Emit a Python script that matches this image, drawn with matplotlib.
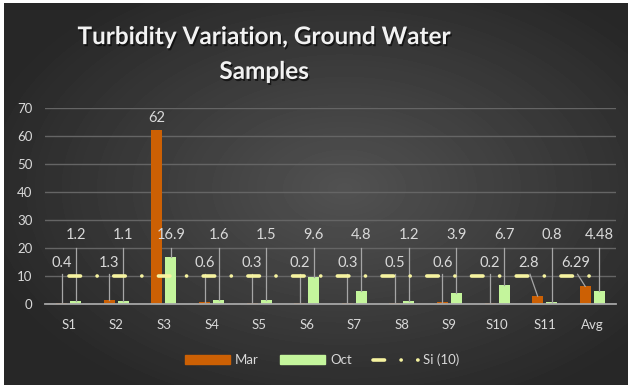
import matplotlib
matplotlib.use('Agg')
import matplotlib.pyplot as plt
import numpy as np
from matplotlib.lines import Line2D
from matplotlib.patches import Patch
import matplotlib.patheffects as pe

categories = ['S1', 'S2', 'S3', 'S4', 'S5', 'S6', 'S7', 'S8', 'S9', 'S10', 'S11', 'Avg']
mar = [0.4, 1.3, 62, 0.6, 0.3, 0.2, 0.3, 0.5, 0.6, 0.2, 2.8, 6.29]
oct_ = [1.2, 1.1, 16.9, 1.6, 1.5, 9.6, 4.8, 1.2, 3.9, 6.7, 0.8, 4.48]
si = [10, 10, 10, 10, 10, 10, 10, 10, 10, 10, 10, 10]
mar_labels = ['0.4', '1.3', '62', '0.6', '0.3', '0.2', '0.3', '0.5', '0.6', '0.2', '2.8', '6.29']
oct_labels = ['1.2', '1.1', '16.9', '1.6', '1.5', '9.6', '4.8', '1.2', '3.9', '6.7', '0.8', '4.48']
title = 'Turbidity Variation, Ground Water\nSamples'

ORANGE = '#cc6004'
GREEN = '#c4f59c'
YELLOW = '#f6f3a0'
TXT = '#d9d9d9'
LEAD = '#a6a6a6'

plt.rcParams['font.family'] = ['Lato', 'DejaVu Sans']
plt.rcParams['lines.scale_dashes'] = False

W_PX, H_PX = 628, 385
fig = plt.figure(figsize=(W_PX / 100, H_PX / 100), dpi=100, facecolor='white')

# background gradient
bg = fig.add_axes([4 / W_PX, 0, 1 - 4 / W_PX, 1 - 3 / H_PX])
H, W = 382, 624
yy, xx = np.mgrid[0:H, 0:W]
cx, cy = 340, 185
r = np.sqrt(((xx - cx) / (W * 0.6)) ** 2 + ((yy - cy) / (H * 0.62)) ** 2)
r = np.clip(r, 0, 1)
center, edge = 0.32, 0.155
img = center - (center - edge) * r
bg.imshow(img, cmap='gray', vmin=0, vmax=1, aspect='auto', extent=[0, 1, 0, 1], interpolation='bilinear')
bg.axis('off')

ax = fig.add_axes([45 / W_PX, 1 - 304 / H_PX, 571 / W_PX, 196 / H_PX])
ax.patch.set_alpha(0)
x = np.arange(len(categories))
bw = 0.23
off = 0.147
ax.bar(x - off, mar, bw, color=ORANGE, zorder=2)
ax.bar(x + off, oct_, bw, color=GREEN, zorder=2)
ax.plot(x, si, color=YELLOW, lw=2.6, dashes=(8.3, 11.9, 0.1, 11.9),
        dash_capstyle='round', solid_capstyle='round', zorder=4)

ax.set_xlim(-0.5, len(categories) - 0.5)
ax.set_ylim(0, 70)
ax.set_yticks(np.arange(0, 71, 10))
ax.set_xticks(x)
ax.set_xticklabels(categories)
ax.tick_params(axis='both', length=0, colors=TXT, labelsize=9.5)
ax.tick_params(axis='x', pad=11)
ax.tick_params(axis='y', pad=9)
ax.grid(axis='y', color='#656565', lw=1.0, zorder=0)
ax.set_axisbelow(True)
for s in ['top', 'right', 'left']:
    ax.spines[s].set_visible(False)
ax.spines['bottom'].set_color('#a6a6a6')
ax.spines['bottom'].set_linewidth(1.3)
ax.spines['bottom'].set_zorder(3)

MAR_LY, MAR_LS = 14.5, 10.6
OCT_LY, OCT_LS = 24.5, 20.0
for i in range(len(categories)):
    bx = x[i] - off
    v = mar[i]
    if v > MAR_LS:
        ax.text(bx, v + 2, mar_labels[i], ha='center', va='bottom', color=TXT, fontsize=10.5)
    else:
        lx = bx if v < 2 else bx - 0.2
        ax.text(lx, MAR_LY, mar_labels[i], ha='center', va='center', color=TXT, fontsize=10.5)
        ax.plot([lx + (0.04 if v >= 2 else 0), bx], [MAR_LS, v], color=LEAD, lw=0.9, zorder=3)
    bx = x[i] + off
    v = oct_[i]
    ax.text(bx, OCT_LY, oct_labels[i], ha='center', va='center', color=TXT, fontsize=10.5)
    ax.plot([bx, bx], [OCT_LS, v], color=LEAD, lw=0.9, zorder=3)

fig.text(264 / W_PX, 1 - 54 / H_PX, title, ha='center', va='center', fontsize=17.5,
         weight='bold', color='#f2f2f2', linespacing=1.62, multialignment='center',
         path_effects=[pe.withSimplePatchShadow(offset=(1, -1.5), shadow_rgbFace='black', alpha=0.6)])

handles = [Patch(color=ORANGE, label='Mar'), Patch(color=GREEN, label='Oct'),
           Line2D([], [], color=YELLOW, lw=2.6, dashes=(8.3, 11.9, 0.1, 11.9),
                  dash_capstyle='round', label='Si (10)')]
fig.legend(handles=handles, loc='center', bbox_to_anchor=(322 / W_PX, 1 - 360 / H_PX),
           ncol=3, frameon=False, fontsize=9.5, labelcolor=TXT, handlelength=3.4,
           columnspacing=1.6, handletextpad=0.4)

fig.savefig('out.png', dpi=100, facecolor='white')
